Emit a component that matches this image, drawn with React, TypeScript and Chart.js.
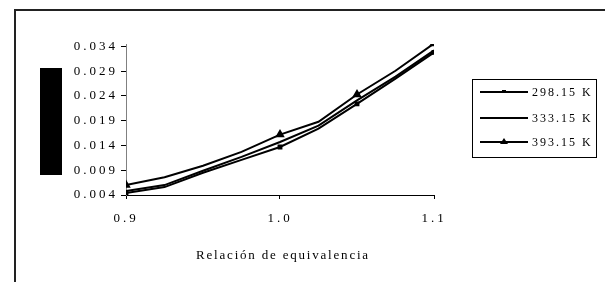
import React, { useEffect, useRef } from "react";
import { Chart, registerables } from "chart.js";

Chart.register(...registerables);

const xValues = [0.9, 0.925, 0.95, 0.975, 1.0, 1.025, 1.05, 1.075, 1.1];
const series298 = [0.0044, 0.0056, 0.0085, 0.0111, 0.0137, 0.0174, 0.0224, 0.0275, 0.0328];
const series333 = [0.0048, 0.006, 0.0089, 0.0117, 0.0147, 0.018, 0.0231, 0.0279, 0.0332];
const series393 = [0.006, 0.0076, 0.0099, 0.0127, 0.0162, 0.0188, 0.0243, 0.0291, 0.0346];
const seriesLabels = ["298.15 K", "333.15 K", "393.15 K"];
const markedIndices = [0, 4, 6, 8];
const yTicks = [0.004, 0.009, 0.014, 0.019, 0.024, 0.029, 0.034];
const xTicks = [0.9, 1.0, 1.1];
const xTitle = "Relación de equivalencia";

const FONT = "'Liberation Serif', 'Times New Roman', serif";

function toPoints(vals: number[]) {
  return xValues.map((x, i) => ({ x, y: vals[i] }));
}

function radii(r: number) {
  return xValues.map((_, i) => (markedIndices.includes(i) ? r : 0));
}

const TICK_SPACING = "3px";

const spacingPlugin = {
  id: "spacing",
  beforeUpdate(chart: any) {
    chart.ctx.letterSpacing = TICK_SPACING;
  },
  beforeLayout(chart: any) {
    chart.ctx.letterSpacing = TICK_SPACING;
  },
  beforeDraw(chart: any) {
    chart.ctx.letterSpacing = TICK_SPACING;
  },
};

const decorPlugin = {
  id: "decor",
  afterDraw(chart: any) {
    const ctx = chart.ctx as CanvasRenderingContext2D;
    ctx.save();
    // y-axis title block
    ctx.fillStyle = "#000";
    ctx.fillRect(40, 68, 22, 107);
    // x-axis title
    ctx.letterSpacing = "1.8px";
    ctx.font = `13px ${FONT}`;
    ctx.textBaseline = "middle";
    ctx.textAlign = "center";
    ctx.fillText(xTitle, 283, 256);
    // legend box
    const bx = 472.5, by = 79.5, bw = 124, bh = 78;
    ctx.strokeStyle = "#000";
    ctx.lineWidth = 1;
    ctx.strokeRect(bx, by, bw, bh);
    const rows = [92, 118, 142];
    chart.data.datasets.forEach((ds: any, i: number) => {
      const y = rows[i];
      ctx.strokeStyle = "#000";
      ctx.lineWidth = 2;
      ctx.beginPath();
      ctx.moveTo(480, y);
      ctx.lineTo(528, y);
      ctx.stroke();
      ctx.fillStyle = "#000";
      if (ds.pointStyle === "triangle") {
        ctx.beginPath();
        ctx.moveTo(504, y - 4);
        ctx.lineTo(508, y + 2);
        ctx.lineTo(500, y + 2);
        ctx.closePath();
        ctx.fill();
      } else if (ds.pointStyle === "rect") {
        ctx.fillRect(502, y - 2, 4, 3);
      }
      ctx.letterSpacing = "2px";
      ctx.font = `12px ${FONT}`;
      ctx.textBaseline = "middle";
      ctx.textAlign = "left";
      ctx.fillText(ds.label, 532, y + 1);
    });
    ctx.restore();
  },
};

export default function App() {
  const ref = useRef<HTMLCanvasElement | null>(null);
  useEffect(() => {
    if (!ref.current) return;
    const chart = new Chart(ref.current, {
      type: "line",
      data: {
        datasets: [
          {
            label: seriesLabels[0],
            data: toPoints(series298),
            borderColor: "#000",
            backgroundColor: "#000",
            borderWidth: 2,
            pointStyle: "rect",
            pointRadius: radii(2),
            pointHoverRadius: 0,
            tension: 0,
          },
          {
            label: seriesLabels[1],
            data: toPoints(series333),
            borderColor: "#000",
            backgroundColor: "#000",
            borderWidth: 2,
            pointRadius: 0,
            pointHoverRadius: 0,
            tension: 0,
          },
          {
            label: seriesLabels[2],
            data: toPoints(series393),
            borderColor: "#000",
            backgroundColor: "#000",
            borderWidth: 2,
            pointStyle: "triangle",
            pointRadius: radii(3.5),
            pointHoverRadius: 0,
            tension: 0,
          },
        ],
      },
      options: {
        animation: false,
        responsive: false,
        events: [],
        layout: { padding: { left: 0, right: 171, top: 44, bottom: 19 } },
        plugins: { legend: { display: false }, tooltip: { enabled: false } },
        scales: {
          x: {
            type: "linear",
            min: 0.9,
            max: 1.1,
            afterBuildTicks: (s: any) => {
              s.ticks = xTicks.map((v) => ({ value: v }));
            },
            afterFit: (s: any) => {
              s.height = 68;
            },
            border: { color: "#000", width: 1 },
            grid: { drawOnChartArea: false, drawTicks: true, tickLength: 4, color: "#000" },
            ticks: {
              color: "#000",
              padding: 12,
              maxRotation: 0,
              font: { family: FONT, size: 13 },
              callback: (v: any) => Number(v).toFixed(1),
            },
          },
          y: {
            type: "linear",
            min: 0.004,
            max: 0.0345,
            afterBuildTicks: (s: any) => {
              s.ticks = yTicks.map((v) => ({ value: v }));
            },
            afterFit: (s: any) => {
              s.width = 126;
            },
            border: { color: "#808080", width: 1 },
            grid: { drawOnChartArea: false, drawTicks: true, tickLength: 5, color: "#000" },
            ticks: {
              color: "#000",
              padding: 3,
              font: { family: FONT, size: 13 },
              callback: (v: any) => Number(v).toFixed(3),
            },
          },
        },
      },
      plugins: [spacingPlugin, decorPlugin],
    } as any);
    return () => chart.destroy();
  }, []);

  return (
    <div style={{ position: "fixed", left: 0, top: 0, width: 605, height: 282, background: "#fff" }}>
      <div
        style={{
          position: "absolute",
          left: 14,
          top: 9,
          width: 600,
          height: 280,
          borderTop: "2px solid #222",
          borderLeft: "2px solid #222",
        }}
      />
      <canvas ref={ref} width={605} height={282} style={{ position: "absolute", left: 0, top: 0, width: 605, height: 282 }} />
    </div>
  );
}
